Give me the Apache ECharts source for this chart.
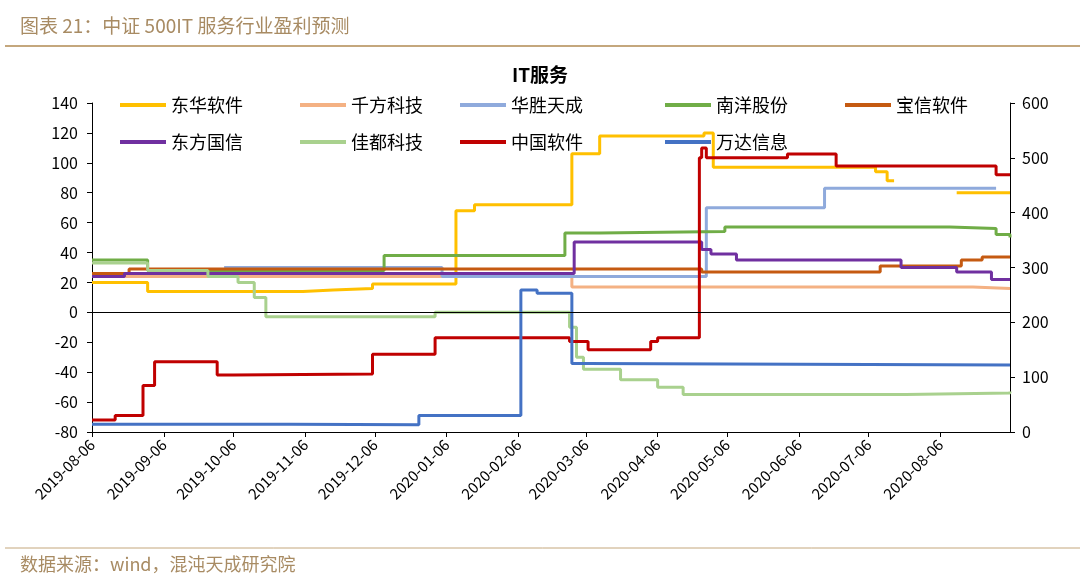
<!DOCTYPE html>
<html>
<head>
<meta charset="utf-8">
<script src="https://cdn.jsdelivr.net/npm/echarts@6/dist/echarts.min.js"></script>
<style>html,body{margin:0;padding:0;background:#fff}#main{width:1080px;height:581px}</style>
</head>
<body>
<div id="main"></div>
<script>
// step series: change dates and the value from that date on
var dhDates = ['2019-08-06','2019-08-30','2019-11-05','2019-11-18','2019-12-05','2020-01-10','2020-01-18','2020-02-29','2020-03-12','2020-04-26','2020-04-30','2020-07-09','2020-07-14','2020-07-17','2020-08-13','2020-09-05'];
var dhVals  = [20,14,15,16,19,68,72,106,118,120,97,94,88,null,80,80];
var qfDates = ['2019-08-06','2020-02-29','2020-08-20','2020-09-05'];
var qfVals  = [24,17,16,16];
var hsDates = ['2019-10-02','2020-01-04','2020-04-27','2020-06-17','2020-08-30'];
var hsVals  = [30,24,70,83,83];
var nyDates = ['2019-08-06','2019-08-30','2019-12-10','2020-02-26','2020-03-12','2020-05-05','2020-08-10','2020-08-30','2020-09-05'];
var nyVals  = [35,28,38,53,54,57,56,52,50];
var bxDates = ['2019-08-06','2019-08-22','2020-04-25','2020-07-11','2020-08-15','2020-08-24','2020-09-05'];
var bxVals  = [26,29,27,31,35,37,37];
var dfDates = ['2019-08-06','2019-08-20','2020-03-01','2020-04-25','2020-04-29','2020-05-10','2020-07-20','2020-08-13','2020-08-28','2020-09-05'];
var dfVals  = [24,26,47,42,39,35,30,27,22,22];
var jdDates = ['2019-08-06','2019-08-30','2019-09-25','2019-10-08','2019-10-15','2019-10-20','2020-01-01','2020-02-28','2020-03-02','2020-03-05','2020-03-21','2020-04-06','2020-04-17','2020-07-22','2020-09-05'];
var jdVals  = [33,28,24,20,10,-3,0,-10,-30,-38,-45,-50,-55,-54,-53];
var zgDates = ['2019-08-06','2019-08-16','2019-08-28','2019-09-02','2019-09-29','2019-10-06','2019-12-05','2020-01-01','2020-02-28','2020-03-07','2020-04-03','2020-04-06','2020-04-24','2020-04-25','2020-04-27','2020-06-01','2020-06-22','2020-08-30','2020-09-05'];
var zgVals  = [22,30,85,128,104,106,142,172,165,150,165,172,500,518,500,507,485,469,469];
var wdDates = ['2019-08-06','2019-10-30','2019-12-25','2020-02-07','2020-02-14','2020-02-29','2020-03-06','2020-09-05'];
var wdVals  = [14,13,30,259,253,125,122,122];

var names  = ['东华软件','千方科技','华胜天成','南洋股份','宝信软件','东方国信','佳都科技','中国软件','万达信息'];
var colors = ['#FFC000','#F4B183','#8FAADC','#70AD47','#C55A11','#7030A0','#A9D18E','#C00000','#4472C4'];
var dateSets = [dhDates,qfDates,hsDates,nyDates,bxDates,dfDates,jdDates,zgDates,wdDates];
var valSets  = [dhVals,qfVals,hsVals,nyVals,bxVals,dfVals,jdVals,zgVals,wdVals];
var rightAxis = [false,false,false,false,false,false,false,true,true];

var days = [];
for (var d = new Date(Date.UTC(2019,7,6)); d <= new Date(Date.UTC(2020,8,5)); d.setUTCDate(d.getUTCDate()+1)) {
  days.push(d.toISOString().slice(0,10));
}
function isTick(i, v) { return v.slice(8) === '06'; }

var series = names.map(function (n, i) {
  var s = {
    name: n, type: 'line', step: 'end', symbol: 'none', connectNulls: false,
    yAxisIndex: rightAxis[i] ? 1 : 0,
    lineStyle: {width: 3, color: colors[i]}, itemStyle: {color: colors[i]},
    data: dateSets[i].map(function (dt, k) { return [dt, valSets[i][k] === null ? '-' : valSets[i][k]]; })
  };
  if (i === 0) s.markLine = {silent: true, symbol: 'none', label: {show: false},
    lineStyle: {color: '#000', width: 1, type: 'solid'}, data: [{yAxis: 0}]};
  return s;
});

var legendX = [115,295,455,660,840];
var legends = [];
names.forEach(function (n, i) {
  legends.push({data: [n], left: legendX[i % 5], top: i < 5 ? 91 : 128, icon: 'rect',
    itemWidth: 46, itemHeight: 4, itemGap: 5, textStyle: {fontSize: 18, color: '#000', fontFamily: 'Noto Sans CJK SC'}});
});

var chart = echarts.init(document.getElementById('main'));
chart.setOption({
  animation: false,
  textStyle: {fontFamily: 'Noto Sans CJK SC'},
  title: {text: 'IT服务', left: 'center', top: 60, textStyle: {fontSize: 19, fontWeight: 'bold', color: '#000'}},
  legend: legends,
  grid: {left: 92, right: 70, top: 103, bottom: 149},
  xAxis: {type: 'category', data: days, boundaryGap: false,
    axisLine: {onZero: false, lineStyle: {color: '#000'}},
    axisTick: {interval: isTick, lineStyle: {color: '#000'}},
    axisLabel: {interval: isTick, rotate: 45, fontSize: 15, color: '#000', margin: 10}},
  yAxis: [
    {type: 'value', min: -80, max: 140, interval: 20, splitLine: {show: false},
      axisLine: {show: true, lineStyle: {color: '#000'}}, axisTick: {show: true},
      axisLabel: {fontSize: 16, color: '#000', margin: 14}},
    {type: 'value', min: 0, max: 600, interval: 100, splitLine: {show: false},
      axisLine: {show: true, lineStyle: {color: '#000'}}, axisTick: {show: true},
      axisLabel: {fontSize: 16, color: '#000', margin: 12}}
  ],
  series: series,
  graphic: [
    {type: 'text', left: 20, top: 16, style: {text: '图表 21：中证 500IT 服务行业盈利预测', fontSize: 19, fill: '#A88B63', fontFamily: 'Noto Sans CJK SC'}},
    {type: 'line', shape: {x1: 5, y1: 46, x2: 1080, y2: 46}, style: {stroke: '#C4A77D', lineWidth: 2}},
    {type: 'line', shape: {x1: 5, y1: 548, x2: 1080, y2: 548}, style: {stroke: '#C4A77D', lineWidth: 1}},
    {type: 'text', left: 20, top: 555, style: {text: '数据来源：wind，混沌天成研究院', fontSize: 18, fill: '#A88B63', fontFamily: 'Noto Sans CJK SC'}}
  ]
});
</script>
</body>
</html>
